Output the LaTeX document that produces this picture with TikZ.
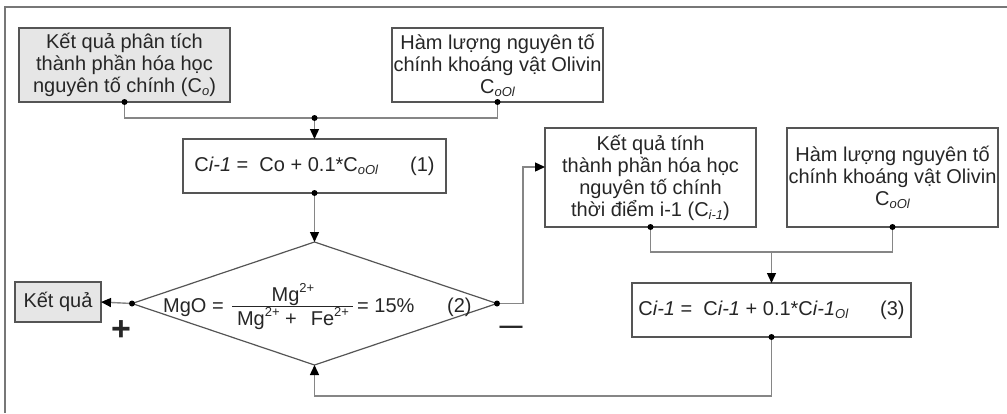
\documentclass[tikz,border=0pt]{standalone}
\usepackage{fontspec}
\setmainfont{Liberation Sans}
\usetikzlibrary{shapes.geometric,arrows.meta}
\definecolor{ink}{HTML}{262626}
\definecolor{edge}{HTML}{555555}
\definecolor{wire}{HTML}{868686}
\definecolor{shade}{HTML}{E6E6E6}
\definecolor{frame}{HTML}{777777}
% small italic index and raised charge
\newcommand\sbs[1]{\raisebox{-0.15em}{\fontsize{13}{13}\selectfont\itshape #1}}
\newcommand\sps[1]{\raisebox{0.42em}{\fontsize{13}{13}\selectfont #1}}
\newcommand\mainsize{\fontsize{20}{22}\selectfont}

\begin{document}
\begin{tikzpicture}[x=1pt,y=-1pt,
  every node/.style={text=ink, font=\mainsize},
  box/.style={draw=edge, line width=1.2pt, inner sep=0pt, outer sep=0pt,
    align=center, minimum width=211pt},
  eqbox/.style={draw=edge, line width=1.2pt, inner sep=0pt, outer sep=0pt,
    minimum height=54pt},
  conn/.style={draw=wire, line width=1.4pt},
  arr/.style={-{Triangle[length=10pt,width=9pt,color=black,fill=black]}},
  jdot/.style={fill=black}]
\useasboundingbox (0,0) rectangle (1007,413);

% outer frame
\draw[frame, line width=1.5pt] (1007,7) -- (5,7) -- (5,413);

% input boxes, top row
\node[box, fill=shade, minimum height=74pt] (in1) at (124.5,65)
  {Kết quả phân tích\\thành phần hóa học\\nguyên tố chính (C\sbs{o})};
\node[box, minimum height=74pt] (in2) at (497.5,65)
  {Hàm lượng nguyên tố\\chính khoáng vật Olivin\\C\sbs{oOl}};

% step (1)
\node[eqbox, minimum width=263pt] (f1) at (314.5,166)
  {C\textit{i-1} =\ \ Co + 0.1*C\sbs{oOl}\hspace{32pt}(1)};

% decision (2)
\node[draw=edge, line width=1.2pt, diamond, minimum width=365pt,
  minimum height=123pt, inner sep=0pt, outer sep=0pt] (dec) at (314.5,303.5) {};
\node[anchor=base west, inner sep=0pt] (mgo) at (163,312) {MgO =};
\node[anchor=base, inner sep=0pt] (num) at (293,301) {Mg\sps{2+}};
\node[anchor=base, inner sep=0pt] (den) at (293,325)
  {Mg\sps{2+} +\hspace{14pt}Fe\sps{2+}};
\draw[ink, line width=1pt] (232,306.5) -- (353,306.5);
\node[anchor=base west, inner sep=0pt] (pct) at (357,312) {= 15\%};
\node[anchor=base west, inner sep=0pt] (n2) at (447,312) {(2)};

% result
\node[box, fill=shade, minimum width=86pt, minimum height=40pt] (res) at (58,302) {Kết quả};
\node[font=\fontsize{34}{34}\selectfont\bfseries, inner sep=0pt] (plus) at (121,331) {+};
\node[font=\fontsize{23}{23}\selectfont\bfseries, inner sep=0pt] (minus) at (511,330) {—};

% iteration boxes
\node[box, minimum height=99pt] (in3) at (650.5,177.5)
  {Kết quả tính\\thành phần hóa học\\nguyên tố chính\\thời điểm i-1 (C\sbs{i-1})};
\node[box, minimum height=99pt] (in4) at (892.5,177.5)
  {Hàm lượng nguyên tố\\chính khoáng vật Olivin\\C\sbs{oOl}};

% step (3)
\node[eqbox, minimum width=279pt] (f3) at (771.5,310)
  {C\textit{i-1} =\ \ C\textit{i-1} + 0.1*C\textit{i-1}\sbs{Ol}\hspace{32pt}(3)};

% junction points
\coordinate (j1) at (314.5,118);
\coordinate (j2) at (771.5,252);
\coordinate (fb) at (523,167);
\coordinate (rb) at (314.5,396);

% connectors
\draw[conn] (in1.south) -- (in1.south |- j1) -- (in2.south |- j1) -- (in2.south);
\draw[conn, arr] (j1) -- (f1.north);
\draw[conn, arr] (f1.south) -- (dec.north);
\draw[conn, arr] (dec.west) -- (res.east);
\draw[conn, arr] (dec.east) -- (dec.east -| fb) -- (fb) -- (in3.west |- fb);
\draw[conn] (in3.south) -- (in3.south |- j2) -- (in4.south |- j2) -- (in4.south);
\draw[conn, arr] (j2) -- (f3.north);
\draw[conn, arr] (f3.south) -- (f3.south |- rb) -- (rb) -- (dec.south);

% junction dots
\foreach \p in {in1.south, in2.south, j1, f1.south, dec.west, dec.east,
  in3.south, in4.south, f3.south}
  \fill[jdot] (\p) circle (3pt);
\end{tikzpicture}
\end{document}
